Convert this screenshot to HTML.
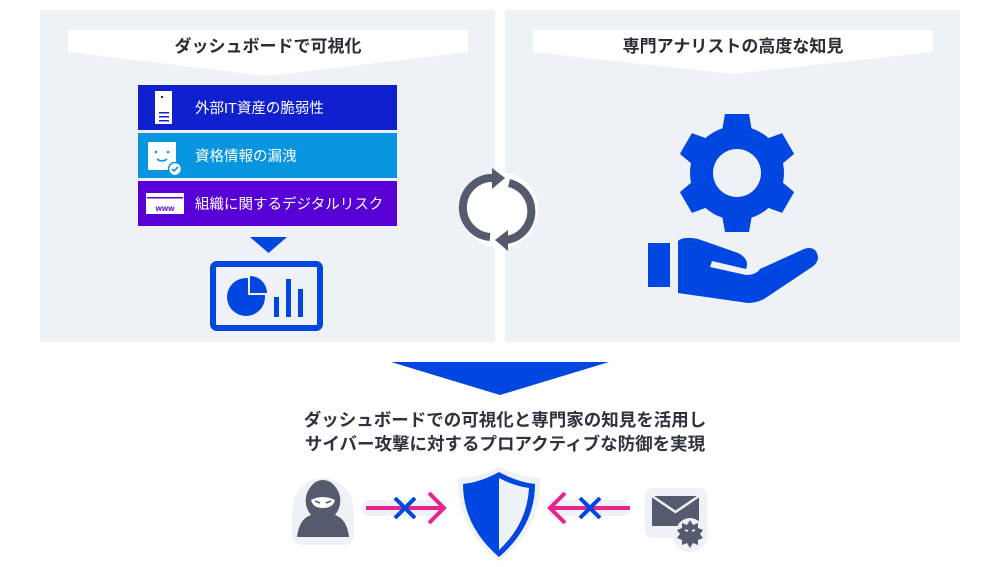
<!DOCTYPE html>
<html><head><meta charset="utf-8"><style>
html,body{margin:0;padding:0;background:#fff;width:1000px;height:567px;overflow:hidden}
svg{display:block}
text{font-family:"Liberation Sans","Noto Sans CJK JP",sans-serif}
</style></head><body>
<svg width="1000" height="567" viewBox="0 0 1000 567" xmlns="http://www.w3.org/2000/svg">
<rect x="40" y="10" width="455" height="332" fill="#eef1f5"/>
<rect x="505" y="10" width="455" height="332" fill="#eef1f5"/>
<!-- banners -->
<polygon points="68,30 468,30 468,52 268,76 68,52" fill="#fff"/>
<polygon points="533,30 933,30 933,52 733,74 533,52" fill="#fff"/>
<text x="268" y="52" font-size="17" font-weight="bold" fill="#2a2d36" text-anchor="middle">ダッシュボードで可視化</text>
<text x="733" y="52" font-size="17" font-weight="bold" fill="#2a2d36" text-anchor="middle">専門アナリストの高度な知見</text>
<!-- rows -->
<rect x="138" y="85" width="259" height="45" fill="#1120cf"/>
<rect x="138" y="133" width="259" height="45" fill="#0795e0"/>
<rect x="138" y="181" width="259" height="45" fill="#5600d6"/>
<text x="195" y="113" font-size="14.5" fill="#fff">外部IT資産の脆弱性</text>
<text x="195" y="161" font-size="14.5" fill="#fff">資格情報の漏洩</text>
<text x="195" y="209" font-size="14.5" fill="#fff">組織に関するデジタルリスク</text>
<!-- icon1 server -->
<rect x="155" y="91" width="17" height="33" fill="#fff"/>
<rect x="161" y="96" width="2" height="2" fill="#1120cf"/>
<rect x="159" y="112" width="10" height="1.5" fill="#1120cf"/>
<rect x="159" y="116" width="10" height="1.5" fill="#1120cf"/>
<rect x="159" y="120" width="10" height="1.5" fill="#1120cf"/>
<!-- icon2 face -->
<rect x="148" y="142" width="28" height="28" fill="#fff"/>
<circle cx="156" cy="152" r="1.3" fill="#0795e0"/><circle cx="168" cy="152" r="1.3" fill="#0795e0"/>
<path d="M157,159 q5,4 10,0" stroke="#0795e0" stroke-width="1.5" fill="none"/>
<circle cx="175" cy="169" r="6.5" fill="#fff" stroke="#0795e0" stroke-width="1.5"/>
<path d="M172,169 l2,2 l4,-4" stroke="#0795e0" stroke-width="1.6" fill="none"/>
<!-- icon3 www -->
<rect x="146" y="193" width="38" height="21" fill="#fff"/>
<rect x="147" y="197" width="36" height="1.5" fill="#5600d6"/>
<text x="165" y="211" font-size="8" font-weight="bold" fill="#5600d6" text-anchor="middle">www</text>
<!-- down triangle -->
<polygon points="250,237 287,237 268.5,253" fill="#0046e0"/>
<!-- dashboard -->
<rect x="213" y="264" width="107" height="64" rx="4" fill="none" stroke="#0046e0" stroke-width="6"/>
<circle cx="246" cy="297" r="19" fill="#0046e0"/>
<path d="M248,278 v17 h19 a19,19 0 0 0 -19,-17z" fill="#eef1f5"/>
<path d="M250,276 v17 h17 a17,17 0 0 0 -17,-17z" fill="#0046e0"/>
<rect x="274" y="297" width="5" height="20" fill="#0046e0"/>
<rect x="286" y="279" width="5" height="38" fill="#0046e0"/>
<rect x="298" y="289" width="5" height="28" fill="#0046e0"/>
<!-- cycle -->
<circle cx="500" cy="210" r="38" fill="#fff"/>
<rect x="495" y="10" width="10" height="332" fill="#fff"/>
<path d="M495,178 A29,29 0 0 0 490,237" stroke="#555a6e" stroke-width="8" fill="none"/>
<path d="M509,183 A29,29 0 0 1 506,240" stroke="#555a6e" stroke-width="8" fill="none"/>
<polygon points="492,168 505,178 492,189" fill="#555a6e"/>
<polygon points="508,230 495,240 508,251" fill="#555a6e"/>
<!-- gear -->
<g transform="translate(737,173)" fill="#0046e0">
<circle r="47"/>
<polygon id="t" points="-15,-42 15,-42 12,-59 -12,-59"/>
<use href="#t" transform="rotate(60)"/><use href="#t" transform="rotate(120)"/><use href="#t" transform="rotate(180)"/><use href="#t" transform="rotate(240)"/><use href="#t" transform="rotate(300)"/>
<circle r="24" fill="#eef1f5"/>
</g>
<!-- hand -->
<rect x="648" y="243" width="22" height="44" fill="#0046e0"/>
<path d="M678,241 q5,-5 20,-2 l40,14 q12,6 8,16 l-34,-8 l-2,6 l36,8 q10,0 14,-6 l44,-20 q12,-4 14,8 q0,6 -6,10 l-48,32 q-8,4 -16,4 l-70,-10z" fill="#0046e0"/>
<!-- big arrow -->
<polygon points="391,362 609,362 500,395" fill="#0046e0"/>
<text x="505" y="426" font-size="17.5" font-weight="bold" fill="#2f3340" text-anchor="middle">ダッシュボードでの可視化と専門家の知見を活用し</text>
<text x="505" y="450" font-size="17.5" font-weight="bold" fill="#2f3340" text-anchor="middle">サイバー攻撃に対するプロアクティブな防御を実現</text>
<!-- hacker -->
<circle cx="323" cy="508" r="30" fill="#eef1f5"/>
<rect x="292" y="505" width="62" height="40" rx="10" fill="#eef1f5"/>
<path d="M297,537 q2,-18 14,-22 q-8,-10 -4,-22 q6,-13 16,-13 q10,0 16,13 q4,12 -4,22 q12,4 14,22z" fill="#555a6e"/>
<path d="M311,500 q12,-6 24,0 q-2,8 -12,8 q-10,0 -12,-8z" fill="#fff"/>
<path d="M315,501 l5,2 M331,501 l-5,2" stroke="#555a6e" stroke-width="1.5"/>
<!-- left arrow -->
<rect x="362" y="500" width="80" height="16" rx="8" fill="#eef1f5"/>
<line x1="366" y1="508" x2="444" y2="508" stroke="#e8248c" stroke-width="4"/>
<path d="M429,493 l15,15 l-15,15" stroke="#e8248c" stroke-width="4" fill="none"/>
<path d="M395,498 l20,20 M415,498 l-20,20" stroke="#0046e0" stroke-width="4"/>
<!-- shield -->
<path d="M499,466 q20,12 41,12 q3,48 -41,83 q-44,-35 -41,-83 q21,0 41,-12z" fill="#eef1f5"/>
<path d="M499,472 q18,10 36,12 q0,42 -36,73 q-36,-31 -36,-73 q18,-2 36,-12z" fill="#0046e0"/>
<path d="M499,478 q15,8 30,10 q-2,36 -30,62z" fill="#eef1f5"/>
<!-- right arrow -->
<rect x="546" y="500" width="84" height="16" rx="8" fill="#eef1f5"/>
<line x1="550" y1="508" x2="630" y2="508" stroke="#e8248c" stroke-width="4"/>
<path d="M565,493 l-15,15 l15,15" stroke="#e8248c" stroke-width="4" fill="none"/>
<path d="M580,498 l20,20 M600,498 l-20,20" stroke="#0046e0" stroke-width="4"/>
<!-- mail -->
<rect x="645" y="488" width="62" height="50" rx="8" fill="#eef1f5"/>
<circle cx="690" cy="534" r="18" fill="#eef1f5"/>
<rect x="652" y="496" width="47" height="30" fill="#555a6e"/>
<path d="M652,496 l23.5,16 l23.5,-16" stroke="#eef1f5" stroke-width="2.5" fill="none"/>
<circle cx="690" cy="532" r="14" fill="#eef1f5"/>
<path d="M690,520 l3,5 l5,-2 l0,5 l5,2 l-3,4 l3,4 l-5,2 l0,5 l-5,-2 l-3,5 l-3,-5 l-5,2 l0,-5 l-5,-2 l3,-4 l-3,-4 l5,-2 l0,-5 l5,2z" fill="#555a6e"/>
<path d="M685,530 l3,1 M695,530 l-3,1" stroke="#fff" stroke-width="1.5"/>
</svg>
</body></html>
